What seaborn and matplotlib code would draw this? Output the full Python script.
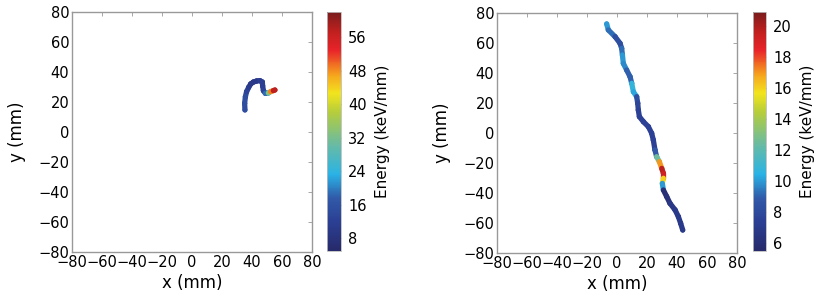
import numpy as np
import pandas as pd
import matplotlib
matplotlib.use("Agg")
import matplotlib.pyplot as plt
from matplotlib.collections import LineCollection
from matplotlib.colors import Normalize, LinearSegmentedColormap
import seaborn as sns

# track 1 (short, curly)
x1 = [35.3, 35.1, 35.6, 36.4, 37.8, 39.1, 40.9, 43.1, 45.3, 46.9, 47.1, 47.6, 48.9, 50.9, 52.4, 54.2, 55.3]
y1 = [14.7, 19.1, 23.5, 26.9, 29.8, 32.0, 33.3, 34.0, 34.2, 33.3, 30.7, 27.6, 25.8, 26.0, 26.9, 27.6, 28.0]
e1 = [15, 15, 16, 14, 12, 10, 10, 10, 11, 12, 12, 12, 14, 24, 42, 55, 60]

# track 2 (long, diagonal)
x2 = [-6.9, -5.8, -1.3, 2.0, 3.1, 3.6, 4.2, 6.4, 8.7, 9.8, 10.9, 13.1, 13.8, 14.2, 14.9, 17.6, 20.9,
      23.1, 24.2, 25.3, 26.4, 28.2, 29.8, 30.9, 30.9, 30.2, 30.9, 33.1, 35.3, 38.7, 40.9, 42.4, 43.8]
y2 = [72.7, 68.7, 64.2, 59.8, 56.4, 52.0, 46.4, 42.0, 37.5, 33.1, 27.5, 24.2, 19.8, 15.3, 10.9, 7.5, 4.2,
      -0.2, -4.7, -11.3, -15.8, -19.1, -23.6, -26.9, -30.2, -33.6, -38.0, -42.4, -46.9, -51.3, -55.8, -60.2, -64.7]
e2 = [10, 10, 8.5, 8, 8.5, 10, 10, 9.5, 8.5, 9.5, 12, 8.5, 8, 7.5, 7.5, 7.5, 7.5,
      7.5, 7.5, 7.5, 10, 15, 19, 20.5, 18, 14, 6, 6, 6.5, 7, 7, 7, 7]

limits1 = (5, 62)
ticks1 = [8, 16, 24, 32, 40, 48, 56]
limits2 = (5.5, 20.9)
ticks2 = [6, 8, 10, 12, 14, 16, 18, 20]
axis_ticks = [-80, -60, -40, -20, 0, 20, 40, 60, 80]

# muted jet, sampled from the colorbars
cmap = LinearSegmentedColormap.from_list("mjet", [
    (0.0, "#272a6b"), (0.12, "#2b3f93"), (0.22, "#3159a8"), (0.32, "#2ab3e6"),
    (0.45, "#6bbba0"), (0.58, "#b5cd3c"), (0.66, "#f2e41e"), (0.74, "#f6a21e"),
    (0.84, "#e8242a"), (0.92, "#c0201f"), (1.0, "#7a1c1c")])

sns.set_theme(style="white")
plt.rcParams['font.family'] = ['DejaVu Sans']
plt.rcParams['text.color'] = 'black'
plt.rcParams['axes.labelcolor'] = 'black'
plt.rcParams['xtick.labelcolor'] = 'black'
plt.rcParams['ytick.labelcolor'] = 'black'

fig = plt.figure(figsize=(8.3, 3.02), dpi=100)
panels = [
    (x1, y1, e1, limits1, ticks1, [0.0867, 0.1656, 0.2892, 0.7947], [0.394, 0.169, 0.0169, 0.791]),
    (x2, y2, e2, limits2, ticks2, [0.5988, 0.1623, 0.2892, 0.7947], [0.9072, 0.169, 0.0157, 0.791]),
]

for xs, ys, es, lim, cticks, apos, cpos in panels:
    ax = fig.add_axes(apos)
    cax = fig.add_axes(cpos)
    norm = Normalize(lim[0], lim[1])
    df = pd.DataFrame({"x": xs, "y": ys, "e": es})
    pts = np.column_stack([xs, ys])
    segs = np.stack([pts[:-1], pts[1:]], axis=1)
    lc = LineCollection(segs, cmap=cmap, norm=norm, linewidth=3.8, capstyle="round")
    lc.set_array((np.array(es[:-1]) + np.array(es[1:])) / 2)
    ax.add_collection(lc)
    sns.scatterplot(data=df, x="x", y="y", hue="e", hue_norm=norm, palette=cmap,
                    s=13, linewidth=0, legend=False, ax=ax)
    ax.set_xlim(-80, 80)
    ax.set_ylim(-80, 80)
    ax.set_xticks(axis_ticks)
    ax.set_yticks(axis_ticks)
    ax.tick_params(direction="in", length=3, width=0.6, color="#999999",
                   labelsize=10.5, pad=2, top=True, right=True)
    for sp in ax.spines.values():
        sp.set_color("#999999")
        sp.set_linewidth(1.0)
    ax.set_xlabel("x (mm)", fontsize=12, labelpad=3)
    ax.set_ylabel("y (mm)", fontsize=12, labelpad=9)
    sm = plt.cm.ScalarMappable(norm=norm, cmap=cmap)
    cb = fig.colorbar(sm, cax=cax, ticks=cticks)
    cb.outline.set_edgecolor("#bbbbbb")
    cb.outline.set_linewidth(0.6)
    cb.ax.tick_params(direction="in", length=2, width=0.6, color="#555555",
                      labelsize=10.5, pad=5)
    cb.set_label("Energy (keV/mm)", fontsize=11, labelpad=6)

fig.savefig("out.png", dpi=100)
